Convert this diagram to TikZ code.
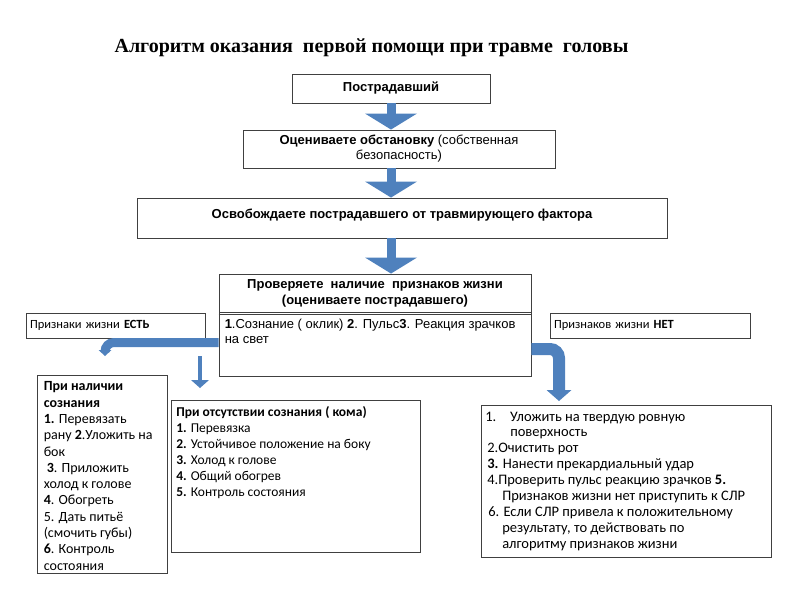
\documentclass[tikz,border=0pt]{standalone}
\usepackage{fontspec}
\setmainfont{Carlito}
\newfontfamily\arialfont{Liberation Sans}
\newfontfamily\timesfont{Liberation Serif}
\usetikzlibrary{arrows.meta}
\definecolor{arrblue}{RGB}{79,129,189}
\definecolor{frame}{RGB}{64,64,64}

\begin{document}
\begin{tikzpicture}[x=1pt, y=-1pt,
    box/.style = {draw=frame, line width=0.9pt, inner sep=0pt},
    flow/.style = {box, font=\arialfont\fontsize{13}{15}\selectfont, align=center},
    side/.style = {box, inner xsep=4pt, align=left, font=\fontsize{12.5}{16}\selectfont},
    txt/.style = {inner sep=0pt, anchor=north west, align=left},
    down/.style = {line width=9pt, draw=arrblue, -{Triangle[width=52pt, length=16pt, line width=0pt]}},
    bentarrow/.style = {draw=arrblue, rounded corners=9pt}]
\useasboundingbox (0,0) rectangle (800,600);

\node[font=\timesfont\bfseries\fontsize{20}{24}\selectfont] (title) at (371.5,48) {Алгоритм оказания~ первой помощи при травме~ головы};

% main flow
\node[flow, minimum width=198pt, minimum height=29pt] (victim) at (391,88.5) {\bfseries Пострадавший};
\node[flow, minimum width=312pt, minimum height=38pt] (situation) at (399,149) {\textbf{Оцениваете обстановку} (собственная\\безопасность)};
\node[box, minimum width=530pt, minimum height=40pt] (release) at (402,218) {};
\node[txt, anchor=north, font=\arialfont\bfseries\fontsize{13}{15}\selectfont] (releasetext) at ([yshift=-11pt]release.north) {Освобождаете пострадавшего от травмирующего фактора};

\node[flow, font=\arialfont\bfseries\fontsize{13}{16}\selectfont, minimum width=312pt, minimum height=38pt] (checkhead) at (375,293) {Проверяете~ наличие~ признаков жизни\\(оцениваете пострадавшего)};
\node[box, minimum width=312pt, minimum height=64pt] (checkbody) at (375,344) {};
\draw[frame, line width=0.9pt] ([yshift=-3pt]checkbody.north west) -- ([yshift=-3pt]checkbody.north east);
\node[txt, font=\arialfont\fontsize{13}{15.7}\selectfont] (checktext) at ([xshift=6pt,yshift=-7pt]checkbody.north west) {\textbf{1}.Сознание ( оклик) \textbf{2}. Пульс\textbf{3}. Реакция зрачков\\на свет};

\node[side, text width=171pt, minimum height=25pt] (yes) at (115.5,325.5) {Признаки жизни \textbf{ЕСТЬ}};
\node[side, text width=192pt, minimum height=25pt] (no) at (650,325.5) {Признаков жизни \textbf{НЕТ}};

% what to do
\node[box, minimum width=130pt, minimum height=198pt] (conscious) at (102,474) {};
\node[txt, font=\fontsize{14}{16.3}\selectfont] (conscioustext) at ([xshift=7pt,yshift=-7pt]conscious.north west) {\textbf{При наличии}\\
\textbf{сознания}\\
\textbf{1.} Перевязать\\
рану \textbf{2}.Уложить на\\
бок\\
\hspace*{3pt}\textbf{3}. Приложить\\
холод к голове\\
\textbf{4}. Обогреть\\
5. Дать питьё\\
(смочить губы)\\
\textbf{6}. Контроль\\
состояния};

\node[box, minimum width=249pt, minimum height=152pt] (coma) at (296,476) {};
\node[txt, font=\fontsize{13.5}{16}\selectfont] (comatext) at ([xshift=5pt,yshift=-7pt]coma.north west) {\textbf{При отсутствии сознания ( кома)}\\
\textbf{1.} Перевязка\\
\textbf{2.} Устойчивое положение на боку\\
\textbf{3.} Холод к голове\\
\textbf{4.} Общий обогрев\\
\textbf{5.} Контроль состояния};

\node[box, minimum width=290pt, minimum height=152pt] (nolife) at (626.5,481) {};
\node[txt, font=\fontsize{14.5}{15.9}\selectfont] (nolifetext) at ([xshift=4pt,yshift=-7pt]nolife.north west) {\makebox[25pt][l]{1.}Уложить на твердую ровную\\
\hspace*{25pt}поверхность\\
\hspace*{2pt}2.Очистить рот\\
\hspace*{2pt}\textbf{3.} Нанести прекардиальный удар\\
\hspace*{2pt}4.Проверить пульс реакцию зрачков \textbf{5.}\\
\hspace*{17pt}Признаков жизни нет приступить к СЛР\\
\hspace*{3pt}6. Если СЛР привела к положительному\\
\hspace*{17pt}результату, то действовать по\\
\hspace*{17pt}алгоритму признаков жизни};

% arrows
\draw[down] (victim.south) -- (victim.south |- situation.north);
\draw[down] (victim.south |- situation.south) -- (victim.south |- release.north);
\draw[down] (victim.south |- release.south) -- (victim.south |- checkhead.north);

\coordinate (yesend) at (105,356);
\draw[bentarrow, line width=9pt, -{Triangle[width=13pt, length=6pt, line width=0pt]}] ([yshift=1.5pt]checkbody.west) -| (yesend);

\coordinate (comastart) at (200,356);
\coordinate (comaend) at (200,388);
\draw[line width=4.5pt, draw=arrblue, -{Triangle[width=18pt, length=8pt, line width=0pt]}] (comastart) -- (comaend);

\coordinate (noend) at (559,401);
\draw[bentarrow, line width=12pt, -{Triangle[width=25pt, length=11pt, line width=0pt]}] ([yshift=-5pt]checkbody.east) -| (noend);
\end{tikzpicture}
\end{document}
